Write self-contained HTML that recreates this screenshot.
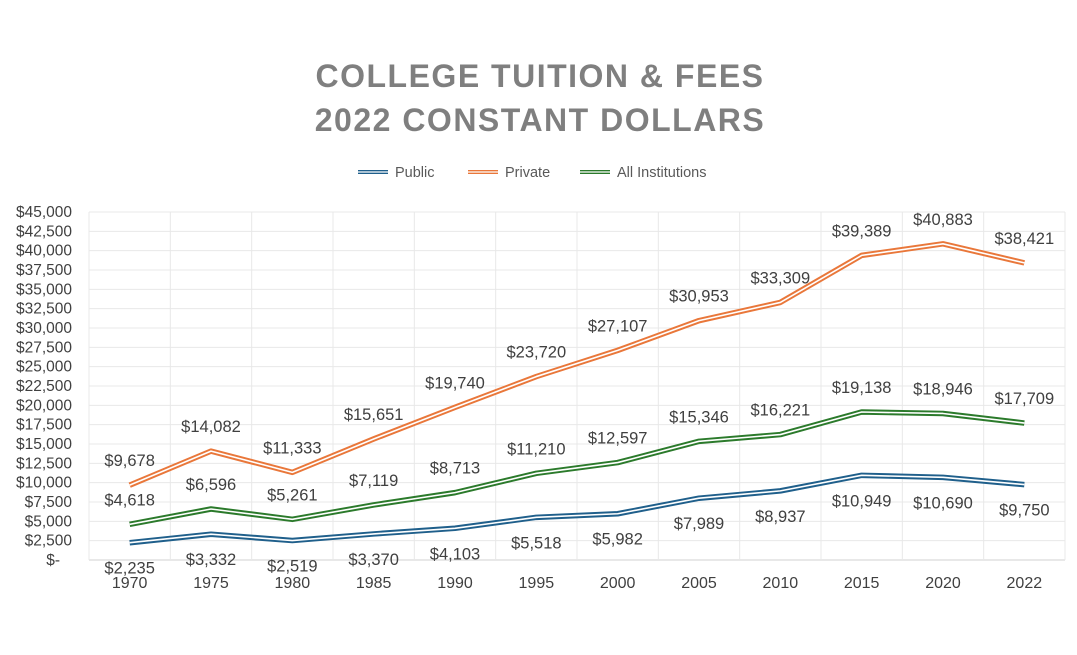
<!DOCTYPE html>
<html><head><meta charset="utf-8"><style>
body{margin:0;background:#fff;}
svg text{font-family:"Liberation Sans",sans-serif;}
</style></head><body>
<svg id="chart" width="1077" height="650" xmlns="http://www.w3.org/2000/svg">
<text x="540" y="87" text-anchor="middle" font-size="32" font-weight="bold" fill="#7f7f7f" letter-spacing="1.5">COLLEGE TUITION &amp; FEES</text>
<text x="540" y="131" text-anchor="middle" font-size="32" font-weight="bold" fill="#7f7f7f" letter-spacing="1.5">2022 CONSTANT DOLLARS</text>
<g id="grid"></g><g id="axes"></g><g id="series"></g><g id="legend"></g>
</svg>
<script>
const categories=["1970","1975","1980","1985","1990","1995","2000","2005","2010","2015","2020","2022"];
const publicVals=[2235,3332,2519,3370,4103,5518,5982,7989,8937,10949,10690,9750];
const privateVals=[9678,14082,11333,15651,19740,23720,27107,30953,33309,39389,40883,38421];
const allVals=[4618,6596,5261,7119,8713,11210,12597,15346,16221,19138,18946,17709];
const yTicks=[0,2500,5000,7500,10000,12500,15000,17500,20000,22500,25000,27500,30000,32500,35000,37500,40000,42500,45000];
const NS="http://www.w3.org/2000/svg";
const L=89,R=1065,T=212,B=560,YMAX=45000;
const cw=(R-L)/categories.length;
const x=i=>L+cw*(i+0.5);
const y=v=>B-v/YMAX*(B-T);
function mk(tag,attrs,parent){const e=document.createElementNS(NS,tag);for(const k in attrs)e.setAttribute(k,attrs[k]);parent.appendChild(e);return e;}
const fmt=v=>"$"+v.toLocaleString("en-US");
const grid=document.getElementById('grid'),axes=document.getElementById('axes'),ser=document.getElementById('series'),leg=document.getElementById('legend');
yTicks.forEach(t=>{
 const g=mk('line',{x1:L,x2:R,y1:y(t),y2:y(t),stroke:t===0?'#d0d0d0':'#e8e8e8','stroke-width':1},grid);
 
 
 const lb=mk('text',{x:t===0?60:72,y:y(t)+5,'text-anchor':'end','font-size':15.5,fill:'#404040'},axes);
 lb.textContent=t===0?"$-":fmt(t);
 
 
});
for(let i=0;i<=categories.length;i++){
 const v=mk('line',{x1:L+cw*i,x2:L+cw*i,y1:T,y2:B,stroke:'#e8e8e8','stroke-width':1},grid);
 
 
}
categories.forEach((c,i)=>{
 const t=mk('text',{x:x(i),y:588,'text-anchor':'middle','font-size':16,fill:'#404040'},axes);
 t.textContent=c;
 
 
});
const series=[{name:'public',vals:publicVals,col:'#1f5f8b',below:true},{name:'private',vals:privateVals,col:'#e9773a',below:false},{name:'all-institutions',vals:allVals,col:'#2b7a2b',below:false}];
series.forEach(s=>{
 const pts=s.vals.map((v,i)=>x(i)+','+y(v)).join(' ');
 const a=mk('polyline',{points:pts,fill:'none',stroke:s.col,'stroke-width':5.5,'stroke-linejoin':'round'},ser);
 
 
 const b=mk('polyline',{points:pts,fill:'none',stroke:'#fff','stroke-width':1.6,'stroke-linejoin':'round'},ser);
 
 
 s.vals.forEach((v,i)=>{
  const t=mk('text',{x:x(i),y:s.below?y(v)+31:y(v)-19,'text-anchor':'middle','font-size':16.5,fill:'#404040'},ser);
  t.textContent=fmt(v);
  
  
 });
});
const legItems=[['Public','#1f5f8b',358],['Private','#e9773a',468],['All Institutions','#2b7a2b',580]];
legItems.forEach(([n,c,lx])=>{
 const g=mk('g',{},leg);
 
 
 mk('line',{x1:lx,x2:lx+30,y1:172,y2:172,stroke:c,'stroke-width':4},g);
 mk('line',{x1:lx,x2:lx+30,y1:172,y2:172,stroke:'#fff','stroke-width':1.2},g);
 const t=mk('text',{x:lx+37,y:177,'font-size':14.5,fill:'#595959'},g);
 t.textContent=n;
});
</script>
</body></html>
